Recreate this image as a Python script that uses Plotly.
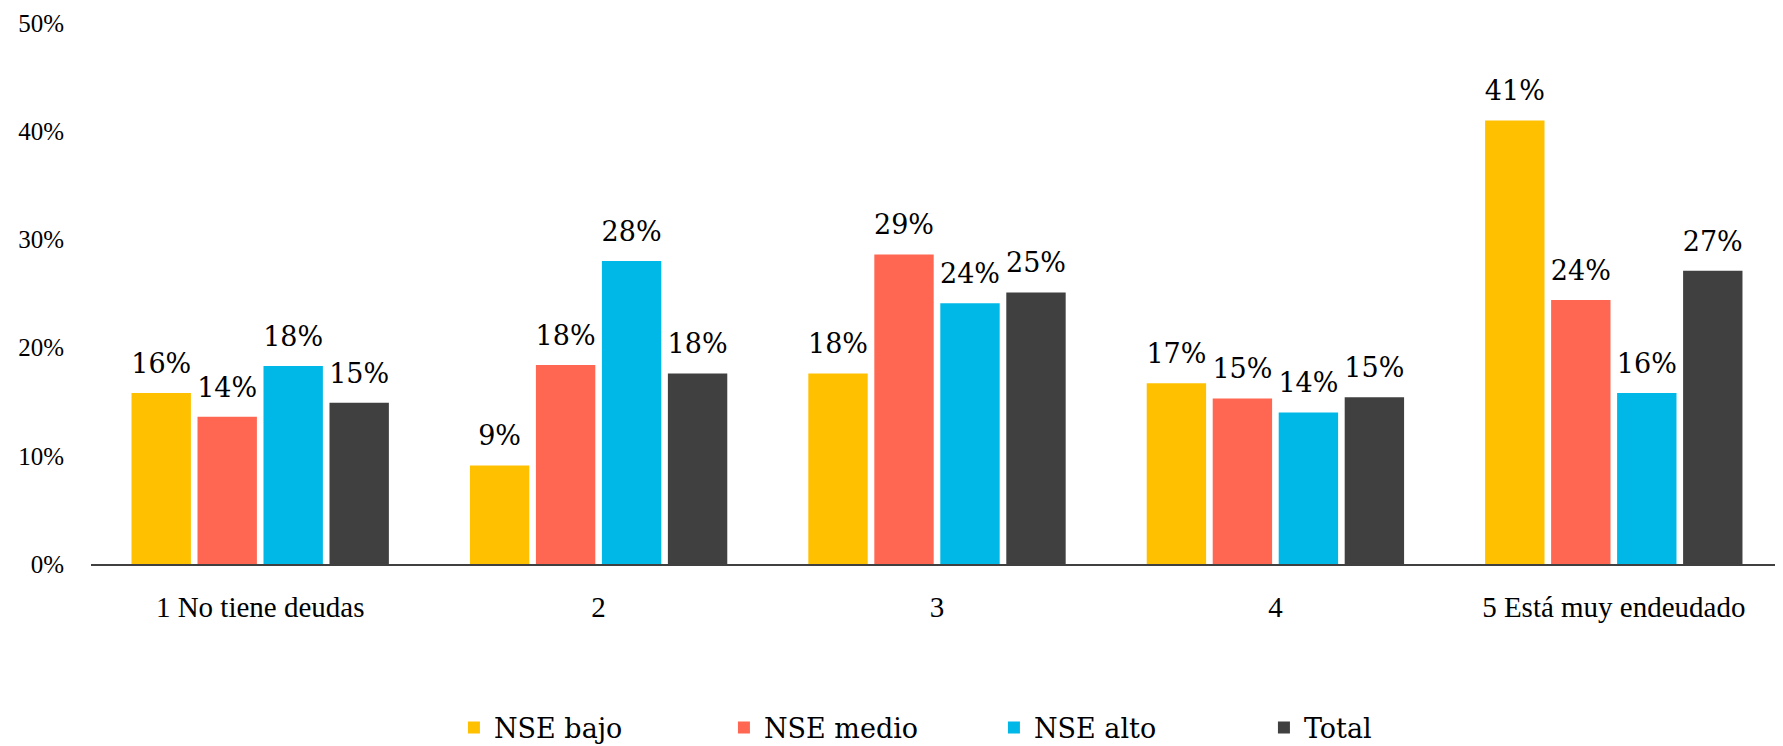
import plotly.graph_objects as go

categories = ["1 No tiene deudas", "2", "3", "4", "5 Está muy endeudado"]
series_names = ["NSE bajo", "NSE medio", "NSE alto", "Total"]
nse_bajo = [0.158, 0.091, 0.176, 0.167, 0.410]
nse_medio = [0.136, 0.184, 0.286, 0.153, 0.244]
nse_alto = [0.183, 0.280, 0.241, 0.140, 0.158]
total = [0.149, 0.176, 0.251, 0.154, 0.271]
colors = ["#FFC000", "#FF6753", "#00B8E7", "#404040"]

y_ticks = [0, 0.1, 0.2, 0.3, 0.4, 0.5]
y_tick_labels = ["0%", "10%", "20%", "30%", "40%", "50%"]

FONT = "Liberation Serif, serif"
LABEL_FONT = "DejaVu Serif"

fig = go.Figure()
all_series = [nse_bajo, nse_medio, nse_alto, total]
for i, (name, vals) in enumerate(zip(series_names, all_series)):
    fig.add_trace(go.Bar(
        x=categories, y=vals, name=name,
        marker=dict(color=colors[i], line=dict(width=0)),
        offsetgroup=str(i), hoverinfo="skip",
    ))
for i, (name, vals) in enumerate(zip(series_names, all_series)):
    fig.add_trace(go.Scatter(
        x=categories, y=vals, mode="markers+text",
        text=[f"{round(v*100):.0f}%" for v in vals],
        textposition="top center",
        textfont=dict(family=LABEL_FONT, size=27, color="#000000"),
        marker=dict(size=20, opacity=0, color=colors[i]),
        offsetgroup=str(i), showlegend=False, hoverinfo="skip",
        cliponaxis=False,
    ))

fig.update_layout(
    width=1775, height=738,
    margin=dict(l=83, r=0, t=15, b=182),
    paper_bgcolor="white", plot_bgcolor="white",
    barmode="group", bargap=0.22, bargroupgap=0.1,
    scattermode="group", scattergap=0.22,
    font=dict(family=FONT, color="#000000"),
    showlegend=True,
    legend=dict(
        orientation="h", yref="container", y=0.0244, yanchor="middle",
        xref="paper", x=0.2145, xanchor="left",
        font=dict(family=LABEL_FONT, size=27, color="#000000"),
        entrywidth=225, entrywidthmode="pixels",
        traceorder="normal",
    ),
    xaxis=dict(
        showline=True, linecolor="#404040", linewidth=2,
        showgrid=False, zeroline=False, ticks="",
        tickfont=dict(family=FONT, size=29, color="#000000"),
        ticklabelstandoff=16,
    ),
    yaxis=dict(
        range=[0, 0.5], tickvals=y_ticks, ticktext=y_tick_labels,
        showgrid=False, zeroline=False, showline=False, ticks="",
        tickfont=dict(family=FONT, size=25, color="#000000"),
        ticklabelstandoff=26,
    ),
)

fig.write_html("out.html")
